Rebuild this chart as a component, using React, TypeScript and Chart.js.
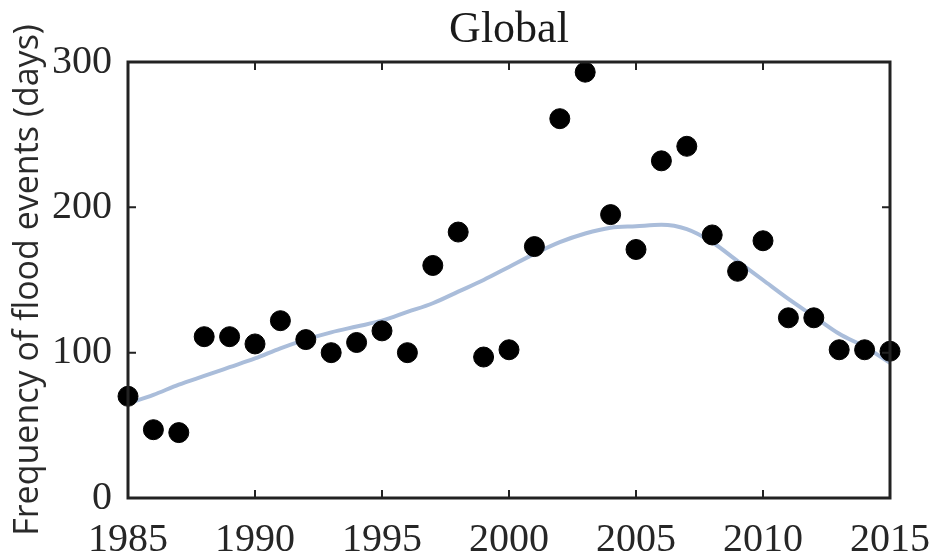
import React, { useEffect, useRef } from "react";
import { Chart, registerables } from "chart.js";

Chart.register(...registerables);

const years: number[] = [
  1985, 1986, 1987, 1988, 1989, 1990, 1991, 1992, 1993, 1994, 1995, 1996, 1997, 1998, 1999, 2000,
  2001, 2002, 2003, 2004, 2005, 2006, 2007, 2008, 2009, 2010, 2011, 2012, 2013, 2014, 2015,
];
const floodDays: number[] = [
  70, 47, 45, 111, 111, 106, 122, 109, 100, 107, 115, 100, 160, 183, 97, 102,
  173, 261, 293, 195, 171, 232, 242, 181, 156, 177, 124, 124, 102, 102, 101,
];
const trendDays: number[] = [
  65, 71, 78, 84, 90, 96, 103, 109, 114, 118, 122, 128, 134, 142, 150, 159,
  168, 176, 182, 186, 187, 188, 185, 176, 163, 150, 137, 125, 113, 104, 93,
];
const xTicks: number[] = [1985, 1990, 1995, 2000, 2005, 2010, 2015];
const yTicks: number[] = [0, 100, 200, 300];
const titleText = "Global";
const yTitleText = "Frequency of flood events (days)";

const frameTicks = {
  id: "frameTicks",
  afterDraw(chart: any) {
    const { ctx, chartArea } = chart;
    const { left, right, top, bottom } = chartArea;
    const xs = chart.scales.x;
    const ys = chart.scales.y;
    ctx.save();
    ctx.strokeStyle = "#222";
    ctx.lineWidth = 2;
    const len = 8;
    ctx.beginPath();
    xTicks.forEach((t) => {
      const px = xs.getPixelForValue(t);
      ctx.moveTo(px, bottom);
      ctx.lineTo(px, bottom - len);
      ctx.moveTo(px, top);
      ctx.lineTo(px, top + len);
    });
    yTicks.forEach((t) => {
      const py = ys.getPixelForValue(t);
      ctx.moveTo(left, py);
      ctx.lineTo(left + len, py);
      ctx.moveTo(right, py);
      ctx.lineTo(right - len, py);
    });
    ctx.stroke();
    ctx.lineWidth = 3;
    ctx.strokeRect(left, top, right - left, bottom - top);
    ctx.restore();
  },
};

export default function App() {
  const ref = useRef<HTMLCanvasElement | null>(null);
  useEffect(() => {
    if (!ref.current) return;
    const chart = new Chart(ref.current, {
      type: "scatter",
      data: {
        datasets: [
          {
            type: "line",
            label: "Trend",
            data: years.map((y, i) => ({ x: y, y: trendDays[i] })),
            borderColor: "#aabdda",
            borderWidth: 4,
            pointRadius: 0,
            tension: 0.4,
            cubicInterpolationMode: "monotone",
            fill: false,
            order: 2,
          } as any,
          {
            type: "scatter",
            label: "Flood days",
            data: years.map((y, i) => ({ x: y, y: floodDays[i] })),
            backgroundColor: "#000",
            borderColor: "#000",
            pointRadius: 10,
            pointHoverRadius: 10,
            clip: false,
            order: 1,
          } as any,
        ],
      },
      options: {
        animation: false,
        responsive: false,
        maintainAspectRatio: false,
        layout: { padding: { left: 0, right: 43, top: 0, bottom: 0 } },
        plugins: {
          legend: { display: false },
          tooltip: { enabled: false },
          title: {
            display: true,
            fullSize: false,
            align: "center",
            text: titleText,
            color: "#1a1a1a",
            font: { family: "'Liberation Serif', serif", size: 44, weight: "normal", lineHeight: 1 },
            padding: { top: 8, bottom: 10 },
          },
        },
        scales: {
          x: {
            type: "linear",
            min: 1985,
            max: 2015,
            afterBuildTicks: (scale: any) => {
              scale.ticks = xTicks.map((v) => ({ value: v }));
            },
            afterFit: (scale: any) => {
              scale.height = 56;
              scale.paddingRight = 0;
              scale.paddingLeft = 0;
            },
            grid: { display: false, drawTicks: false },
            border: { display: false },
            ticks: {
              color: "#262626",
              padding: 18,
              maxRotation: 0,
              autoSkip: false,
              font: { family: "'Liberation Serif', serif", size: 40 },
              callback: (v: any) => String(v),
            },
          },
          y: {
            type: "linear",
            min: 0,
            max: 300,
            afterBuildTicks: (scale: any) => {
              scale.ticks = yTicks.map((v) => ({ value: v }));
            },
            afterFit: (scale: any) => {
              scale.width = 128;
              scale.paddingTop = 0;
              scale.paddingBottom = 0;
            },
            grid: { display: false, drawTicks: false },
            border: { display: false },
            ticks: {
              color: "#262626",
              padding: 16,
              font: { family: "'Liberation Serif', serif", size: 40 },
              callback: (v: any) => String(v),
            },
            title: {
              display: true,
              text: yTitleText,
              color: "#2a2a2a",
              font: { family: "'Open Sans', sans-serif", size: 34 },
              padding: { top: 8, bottom: 0 },
            },
          },
        },
      },
      plugins: [frameTicks],
    } as any);
    return () => chart.destroy();
  }, []);
  return (
    <div style={{ position: "fixed", left: 0, top: 0, width: 933, height: 554, background: "#fff" }}>
      <canvas ref={ref} width={933} height={554} style={{ width: 933, height: 554, display: "block" }} />
    </div>
  );
}
